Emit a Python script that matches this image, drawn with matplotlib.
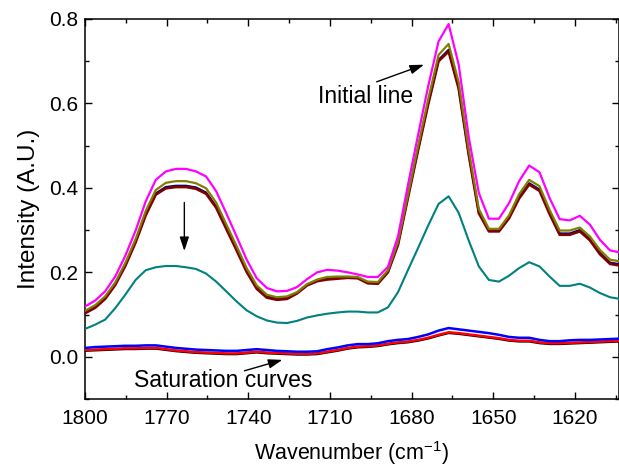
import matplotlib
matplotlib.use("Agg")
import matplotlib.pyplot as plt
from matplotlib.ticker import MultipleLocator

plt.rcParams['font.family'] = ['Liberation Sans', 'DejaVu Sans']

wavenumber = [1800.0, 1796.3, 1792.6, 1788.9, 1785.2, 1781.4, 1777.7, 1774.0, 1770.3, 1766.6,
              1762.9, 1759.2, 1755.5, 1751.8, 1748.1, 1744.3, 1740.6, 1736.9, 1733.2, 1729.5,
              1725.8, 1722.1, 1718.4, 1714.7, 1711.0, 1707.2, 1703.5, 1699.8, 1696.1, 1692.4,
              1688.7, 1685.0, 1681.3, 1677.6, 1673.9, 1670.1, 1666.4, 1662.7, 1659.0, 1655.3,
              1651.6, 1647.9, 1644.2, 1640.5, 1636.8, 1633.0, 1629.3, 1625.6, 1621.9, 1618.2,
              1614.5, 1610.8, 1607.1, 1603.4]

magenta = [0.119, 0.133, 0.155, 0.190, 0.239, 0.299, 0.368, 0.419, 0.439, 0.445,
           0.445, 0.439, 0.427, 0.392, 0.340, 0.285, 0.230, 0.186, 0.163, 0.155,
           0.156, 0.165, 0.184, 0.200, 0.206, 0.204, 0.200, 0.195, 0.189, 0.189,
           0.213, 0.285, 0.408, 0.526, 0.641, 0.747, 0.788, 0.692, 0.520, 0.388,
           0.327, 0.327, 0.364, 0.416, 0.453, 0.437, 0.376, 0.326, 0.323, 0.334,
           0.313, 0.277, 0.252, 0.247]

olive = [0.109, 0.122, 0.143, 0.176, 0.222, 0.279, 0.345, 0.395, 0.412, 0.416,
         0.416, 0.411, 0.399, 0.365, 0.314, 0.262, 0.210, 0.169, 0.147, 0.141,
         0.143, 0.153, 0.172, 0.183, 0.189, 0.190, 0.190, 0.189, 0.178, 0.177,
         0.205, 0.272, 0.385, 0.500, 0.610, 0.715, 0.741, 0.650, 0.490, 0.350,
         0.303, 0.303, 0.335, 0.385, 0.419, 0.404, 0.348, 0.299, 0.299, 0.306,
         0.285, 0.253, 0.230, 0.226]

navy = [0.106, 0.119, 0.140, 0.173, 0.218, 0.274, 0.338, 0.387, 0.402, 0.405,
        0.405, 0.401, 0.389, 0.356, 0.306, 0.255, 0.204, 0.164, 0.143, 0.138,
        0.140, 0.152, 0.171, 0.181, 0.185, 0.187, 0.189, 0.188, 0.176, 0.175,
        0.202, 0.268, 0.381, 0.493, 0.601, 0.703, 0.727, 0.638, 0.481, 0.343,
        0.300, 0.300, 0.331, 0.378, 0.411, 0.396, 0.341, 0.292, 0.292, 0.300,
        0.279, 0.246, 0.223, 0.219]

maroon = [0.103, 0.116, 0.137, 0.170, 0.215, 0.271, 0.335, 0.384, 0.399, 0.402,
          0.402, 0.398, 0.386, 0.353, 0.303, 0.252, 0.201, 0.161, 0.140, 0.135,
          0.137, 0.150, 0.169, 0.179, 0.183, 0.185, 0.187, 0.186, 0.174, 0.173,
          0.200, 0.265, 0.378, 0.490, 0.598, 0.700, 0.723, 0.635, 0.478, 0.340,
          0.297, 0.297, 0.328, 0.375, 0.408, 0.393, 0.338, 0.289, 0.289, 0.297,
          0.276, 0.243, 0.220, 0.216]

teal = [0.066, 0.076, 0.088, 0.115, 0.147, 0.182, 0.205, 0.212, 0.215, 0.215,
        0.212, 0.208, 0.197, 0.178, 0.155, 0.131, 0.110, 0.096, 0.086, 0.081,
        0.080, 0.085, 0.093, 0.098, 0.102, 0.105, 0.107, 0.107, 0.105, 0.105,
        0.117, 0.153, 0.206, 0.258, 0.311, 0.362, 0.380, 0.341, 0.275, 0.214,
        0.182, 0.178, 0.192, 0.210, 0.224, 0.214, 0.190, 0.168, 0.168, 0.173,
        0.164, 0.151, 0.141, 0.137]

blue = [0.021, 0.023, 0.024, 0.025, 0.026, 0.026, 0.027, 0.027, 0.024, 0.021,
        0.019, 0.017, 0.016, 0.015, 0.014, 0.014, 0.016, 0.018, 0.016, 0.014,
        0.013, 0.012, 0.012, 0.013, 0.018, 0.022, 0.027, 0.030, 0.030, 0.032,
        0.037, 0.040, 0.042, 0.047, 0.053, 0.062, 0.068, 0.065, 0.062, 0.059,
        0.056, 0.052, 0.047, 0.045, 0.045, 0.040, 0.037, 0.037, 0.039, 0.040,
        0.040, 0.041, 0.042, 0.043]

red = [0.016, 0.017, 0.018, 0.019, 0.020, 0.020, 0.021, 0.021, 0.018, 0.015,
       0.013, 0.011, 0.010, 0.009, 0.008, 0.008, 0.010, 0.012, 0.010, 0.009,
       0.008, 0.007, 0.007, 0.008, 0.012, 0.016, 0.021, 0.024, 0.025, 0.027,
       0.031, 0.034, 0.036, 0.040, 0.045, 0.052, 0.058, 0.056, 0.053, 0.050,
       0.047, 0.044, 0.040, 0.038, 0.038, 0.034, 0.032, 0.032, 0.033, 0.034,
       0.035, 0.036, 0.037, 0.038]

black = [0.014, 0.015, 0.016, 0.017, 0.018, 0.018, 0.019, 0.019, 0.016, 0.013,
         0.011, 0.009, 0.008, 0.007, 0.006, 0.006, 0.008, 0.010, 0.008, 0.007,
         0.006, 0.005, 0.005, 0.006, 0.010, 0.014, 0.019, 0.022, 0.023, 0.025,
         0.029, 0.032, 0.034, 0.038, 0.043, 0.050, 0.056, 0.054, 0.051, 0.048,
         0.045, 0.042, 0.038, 0.036, 0.036, 0.032, 0.030, 0.030, 0.031, 0.032,
         0.033, 0.034, 0.035, 0.036]

x_ticks = [1800, 1770, 1740, 1710, 1680, 1650, 1620]
y_ticks = [0.0, 0.2, 0.4, 0.6, 0.8]

fig = plt.figure(figsize=(6.19, 4.71), dpi=100)
ax = fig.add_axes([85/619, 72/471, (619-85)/619, (399-19)/471])

ax.plot(wavenumber, black, color='black', lw=1.5, zorder=2)
ax.plot(wavenumber, red, color='#FF0000', lw=1.8, zorder=3)
ax.plot(wavenumber, blue, color='#0000FF', lw=1.8, zorder=3)
ax.plot(wavenumber, teal, color='#008080', lw=1.5, zorder=3)
ax.plot(wavenumber, navy, color='#000080', lw=1.6, zorder=3)
ax.plot(wavenumber, maroon, color='#800000', lw=1.9, zorder=4)
ax.plot(wavenumber, olive, color='#808000', lw=1.6, zorder=4)
ax.plot(wavenumber, magenta, color='#FF00FF', lw=1.6, zorder=4)

ax.set_xlim(1800, 1603.8)
ax.set_ylim(-0.1, 0.8)
ax.set_xticks(x_ticks)
ax.set_xticklabels([str(t) for t in x_ticks])
ax.set_yticks(y_ticks)
ax.set_yticklabels([f"{t:.1f}" for t in y_ticks])
ax.xaxis.set_minor_locator(MultipleLocator(15))
ax.yaxis.set_minor_locator(MultipleLocator(0.1))
ax.tick_params(which='both', direction='in', top=True, right=True, width=1.0, labelsize=15)
ax.tick_params(which='major', length=5)
ax.tick_params(which='minor', length=3)
ax.tick_params(axis='x', which='major', pad=7)
ax.tick_params(axis='y', which='major', pad=5)
for s in ax.spines.values():
    s.set_linewidth(1.1)

ax.set_xlabel('Wavenumber (cm$^{\\mathregular{-1}}$)', fontsize=15.5, labelpad=8)
ax.set_ylabel('Intensity (A.U.)', fontsize=17.5, labelpad=6)

ax.annotate('', xy=(1763.5, 0.244), xytext=(1763.5, 0.372),
            arrowprops=dict(arrowstyle='-|>,head_length=0.6,head_width=0.2',
                            color='black', lw=1.0, mutation_scale=14))
ax.text(1697.1, 0.617, 'Initial line', fontsize=16.5, ha='center', va='center')
ax.annotate('', xy=(1674.5, 0.694), xytext=(1693.8, 0.649),
            arrowprops=dict(arrowstyle='-|>,head_length=0.6,head_width=0.2',
                            color='black', lw=1.0, mutation_scale=14))
ax.text(1749.2, -0.056, 'Saturation curves', fontsize=16.5, ha='center', va='center')
ax.annotate('', xy=(1726.5, -0.0055), xytext=(1742.4, -0.035),
            arrowprops=dict(arrowstyle='-|>,head_length=0.6,head_width=0.2',
                            color='black', lw=1.0, mutation_scale=14))

fig.savefig('out.png', dpi=100)
